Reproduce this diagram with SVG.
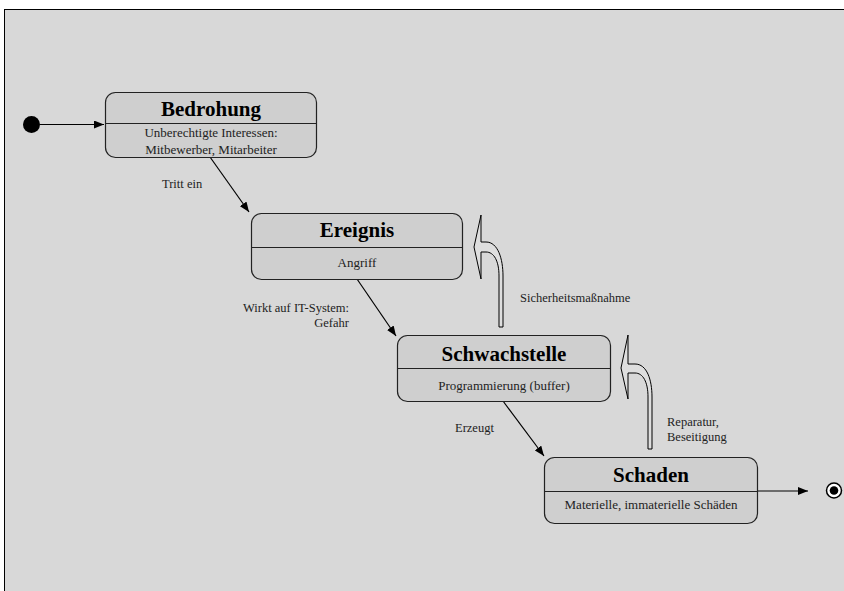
<svg xmlns="http://www.w3.org/2000/svg" width="844" height="591" viewBox="0 0 844 591">
<defs>
<marker id="ah" viewBox="0 0 10 8" refX="10" refY="4" markerWidth="10" markerHeight="8" markerUnits="userSpaceOnUse" orient="auto">
<path d="M0,0 L10,4 L0,8 Z" fill="#000"/>
</marker>
<style>
.box{fill:#cfcfcf;stroke:#222;stroke-width:1.2}
.div{stroke:#222;stroke-width:1.2}
.t{font-family:"Liberation Serif","Times New Roman",serif;font-weight:bold;font-size:21px;fill:#000;text-anchor:middle}
.s{font-family:"Liberation Serif","Times New Roman",serif;font-size:13px;fill:#222;text-anchor:middle}
.l{font-family:"Liberation Serif","Times New Roman",serif;font-size:12.5px;fill:#222}
.c{stroke:#000;stroke-width:1.2;fill:none;marker-end:url(#ah)}
.h{fill:#dedede;stroke:#000;stroke-width:1}
</style>
</defs>
<rect x="0" y="0" width="844" height="591" fill="#fff"/>
<rect x="4.5" y="9.5" width="900" height="700" fill="#d8d8d8" stroke="#000" stroke-width="1"/>

<g id="connectors">
<line class="c" x1="40" y1="124.5" x2="104" y2="124.5"/>
<line class="c" x1="210" y1="157" x2="249" y2="212"/>
<line class="c" x1="357" y1="279" x2="396" y2="336"/>
<line class="c" x1="503" y1="401" x2="544" y2="456"/>
<line class="c" x1="757" y1="491" x2="808" y2="491"/>
<path class="h" d="M499,327 L499,276 C499,261 494,252 486,252 L481,252 L481,279 L474,247 L481,215 L481,242 L486,242 C498,242 503,259 503,276 L503,327 Z"/>
<path class="h" d="M648,449 L648,397 C648,382 643,373 635,373 L628,373 L628,399 L621,368 L628,335 L628,364 L635,364 C647,364 652,380 652,397 L652,449 Z"/>
<text class="l" x="162" y="188">Tritt ein</text>
<text class="l" x="349" y="312" text-anchor="end">Wirkt auf IT-System:</text>
<text class="l" x="349" y="327" text-anchor="end">Gefahr</text>
<text class="l" x="520" y="302">Sicherheitsmaßnahme</text>
<text class="l" x="455" y="432">Erzeugt</text>
<text class="l" x="667" y="426">Reparatur,</text>
<text class="l" x="667" y="441">Beseitigung</text>
</g>

<g id="start">
<circle cx="31.5" cy="124.5" r="8.5" fill="#000"/>
</g>

<g id="end">
<circle cx="834" cy="490.5" r="7.5" fill="#fff" stroke="#000" stroke-width="1.5"/>
<circle cx="834" cy="490.5" r="4.3" fill="#000"/>
</g>

<g id="bedrohung">
<rect class="box" x="105.5" y="92.5" width="211" height="65" rx="10"/>
<line class="div" x1="105.5" y1="123.5" x2="316.5" y2="123.5"/>
<text class="t" x="211" y="116">Bedrohung</text>
<text class="s" x="211" y="137">Unberechtigte Interessen:</text>
<text class="s" x="211" y="154">Mitbewerber, Mitarbeiter</text>
</g>

<g id="ereignis">
<rect class="box" x="251.5" y="213.5" width="211" height="66" rx="10"/>
<line class="div" x1="251.5" y1="247.5" x2="462.5" y2="247.5"/>
<text class="t" x="357" y="237">Ereignis</text>
<text class="s" x="357" y="267">Angriff</text>
</g>

<g id="schwachstelle">
<rect class="box" x="397.5" y="335.5" width="213" height="66" rx="10"/>
<line class="div" x1="397.5" y1="368.5" x2="610.5" y2="368.5"/>
<text class="t" x="504" y="361">Schwachstelle</text>
<text class="s" x="504" y="390">Programmierung (buffer)</text>
</g>

<g id="schaden">
<rect class="box" x="544.5" y="457.5" width="213" height="66" rx="10"/>
<line class="div" x1="544.5" y1="491.5" x2="757.5" y2="491.5"/>
<text class="t" x="651" y="482">Schaden</text>
<text class="s" x="651" y="509">Materielle, immaterielle Schäden</text>
</g>
</svg>
